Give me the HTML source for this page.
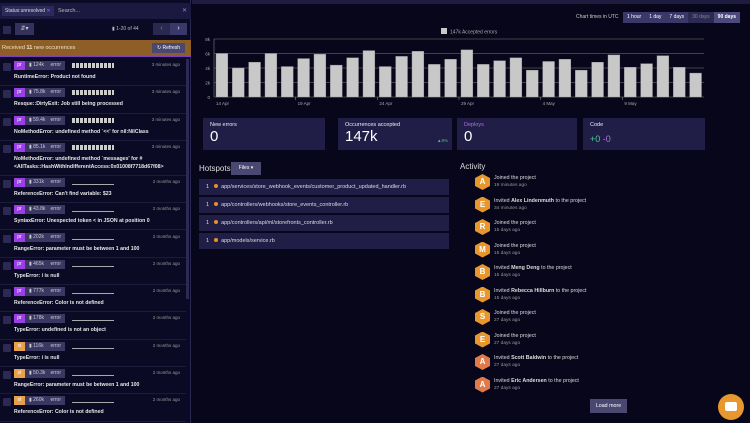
<!DOCTYPE html>
<html><head><meta charset="utf-8">
<style>
*{box-sizing:border-box;margin:0;padding:0}
body{width:750px;height:423px;overflow:hidden;background:#07061a;font-family:"Liberation Sans",sans-serif;color:#ddd;position:relative;font-size:6px}
.abs{position:absolute}
#side{left:0;top:0;width:191px;height:423px;background:#0b0a24;border-right:1px solid #2a2850}
.row{position:absolute;left:0;width:186px;border-bottom:1px solid #1d1b3c}
.cb{position:absolute;left:3px;top:4px;width:8px;height:8px;background:#2c2a52;border-radius:1px}
.badge{position:absolute;left:14px;top:2px;height:9px;display:flex;font-size:5px;line-height:9px}
.badge .e{width:11px;text-align:center;color:#fff}
.badge .r{background:#3a3762;padding:0 4px;width:40px;display:flex;justify-content:space-between;color:#ccc}
.spark{position:absolute;left:72px;top:5px;width:42px;height:4px;border-bottom:1px solid #aaa}
.spark.b{border-bottom:none;top:4px;height:5px;background:repeating-linear-gradient(90deg,#ccc 0 3px,transparent 3px 4px)}
.ago{position:absolute;right:6px;top:3px;font-size:4.5px;color:#999}
.tt{position:absolute;left:14px;top:14px;font-size:5.2px;color:#e6e6e6;line-height:8px;font-weight:bold}
.card{position:absolute;top:118px;height:32px;background:#201e46;padding:4px 7px}
.card .l{font-size:5.5px;color:#eee}
.card .v{font-size:15px;color:#fff;line-height:15px;margin-top:1px}
.hs{position:absolute;left:199px;width:250px;height:16px;background:#201e46;font-size:5.5px;line-height:16px;padding-left:7px;color:#ddd}
.hs i{display:inline-block;width:4px;height:4px;border-radius:50%;background:#e8902a;margin:0 3px 0 5px}
.act{position:absolute;left:475px;height:18px}
.hex{position:absolute;left:0;top:0;width:15px;height:16px;clip-path:polygon(50% 0,100% 25%,100% 75%,50% 100%,0 75%,0 25%);background:#e8962e;color:#fff;font-size:8px;font-weight:bold;text-align:center;line-height:16px}
.act .a1{position:absolute;left:19px;top:1px;font-size:5.3px;white-space:nowrap;color:#ddd}
.act .a2{position:absolute;left:19px;top:9px;font-size:4.8px;color:#999;white-space:nowrap}
</style></head><body>
<div id="side" class="abs">
  <div class="abs" style="left:0;top:3px;width:191px;height:16px;background:#1b1940">
    <div class="abs" style="left:2px;top:3px;height:10px;background:#2c2a58;padding:0 3px;font-size:5px;line-height:10px;color:#ddd">Status:unresolved <span style="color:#b060ff">✕</span></div>
    <div class="abs" style="left:58px;top:3px;font-size:5.5px;line-height:10px;color:#bbb">Search...</div>
    <div class="abs" style="left:182px;top:3px;font-size:6px;line-height:10px;color:#a070ff">✕</div>
  </div>
  <div class="abs" style="left:3px;top:26px;width:8px;height:8px;background:#2c2a52"></div>
  <div class="abs" style="left:15px;top:23px;width:19px;height:12px;background:#34325c;font-size:6px;color:#ccc;text-align:center;line-height:12px">⇵▾</div>
  <div class="abs" style="left:112px;top:26px;font-size:5px;color:#bbb">▮ 1-20 of 44</div>
  <div class="abs" style="left:153px;top:23px;width:17px;height:12px;background:#2a2850;color:#888;font-size:7px;text-align:center;line-height:12px">‹</div>
  <div class="abs" style="left:170px;top:23px;width:17px;height:12px;background:#3a3868;color:#fff;font-size:7px;text-align:center;line-height:12px">›</div>
  <div class="abs" style="left:0;top:40px;width:191px;height:17px;background:#8d5f26;border-bottom:1px solid #7a40c0">
    <div class="abs" style="left:2px;top:5px;font-size:5.5px;color:#f0e0c8">Received <b>11</b> new occurrences</div>
    <div class="abs" style="left:152px;top:3px;width:33px;height:10px;background:#4a4870;font-size:5px;line-height:10px;text-align:center;color:#fff">↻ Refresh</div>
  </div>
  <div id="rows"></div>
  <div class="abs" style="left:186px;top:59px;width:3px;height:240px;background:#2c2a52"></div>
</div>

<div class="abs" style="left:192px;top:0;width:558px;height:4px;background:#1d1b40"></div>
<div class="abs" style="left:576px;top:14px;font-size:5px;color:#ccc">Chart times in UTC</div>
<div class="abs" style="left:623px;top:12px;height:11px;display:flex;font-size:5px;line-height:11px;background:#3a3868">
  <div style="padding:0 4px;color:#fff">1 hour</div>
  <div style="padding:0 4px;color:#fff">1 day</div>
  <div style="padding:0 4px;color:#fff">7 days</div>
  <div style="padding:0 4px;color:#888;background:#2c2a52">30 days</div>
  <div style="padding:0 4px;color:#fff;background:#4c4a7a;font-weight:bold">90 days</div>
</div>
<svg class="abs" id="chart" style="left:192px;top:25px" width="520" height="85"></svg>

<div class="card" style="left:203px;width:122px"><div class="l">New errors</div><div class="v">0</div></div>
<div class="card" style="left:338px;width:114px"><div class="l">Occurrences accepted</div><div class="v">147k</div><div class="abs" style="right:4px;top:20px;font-size:4.5px;color:#3fc08a">▲8%</div></div>
<div class="card" style="left:457px;width:120px"><div class="l" style="color:#b070e0">Deploys</div><div class="v">0</div></div>
<div class="card" style="left:583px;width:122px"><div class="l">Code</div><div class="v" style="font-size:9px;margin-top:4px"><span style="color:#4bc9a0">+0</span> <span style="color:#b070e0">-0</span></div></div>

<div class="abs" style="left:199px;top:164px;font-size:8px;color:#ddd">Hotspots</div>
<div class="abs" style="left:231px;top:162px;width:30px;height:13px;background:#4a4870;font-size:5px;line-height:13px;text-align:center;color:#fff">Files ▾</div>
<div class="hs" style="top:179px">1<i></i>app/services/store_webhook_events/customer_product_updated_handler.rb</div>
<div class="hs" style="top:197px">1<i></i>app/controllers/webhooks/store_events_controller.rb</div>
<div class="hs" style="top:215px">1<i></i>app/controllers/api/ml/storefronts_controller.rb</div>
<div class="hs" style="top:233px">1<i></i>app/models/service.rb</div>

<div class="abs" style="left:460px;top:162px;font-size:8px;color:#ddd">Activity</div>
<div id="acts"></div>
<div class="abs" style="left:590px;top:399px;width:37px;height:14px;background:#4a4870;font-size:5.3px;line-height:14px;text-align:center;color:#fff">Load more</div>
<div class="abs" style="left:718px;top:394px;width:26px;height:26px;border-radius:50%;background:#e8962e"><div class="abs" style="left:7px;top:8px;width:12px;height:9px;background:#fff;border-radius:2px"></div></div>

<script>
const rowsData=[
["pr","124k","3 minutes ago","RuntimeError: Product not found"],
["pr","75.8k","3 minutes ago","Resque::DirtyExit: Job still being processed"],
["pr","59.4k","3 minutes ago","NoMethodError: undefined method `<<' for nil:NilClass"],
["pr","85.1k","3 minutes ago","NoMethodError: undefined method `messages' for #<br>&lt;AllTasks::HashWithIndifferentAccess:0x01008f7718d67f08&gt;"],
["pr","331k","2 months ago","ReferenceError: Can't find variable: $23"],
["pr","43.8k","2 months ago","SyntaxError: Unexpected token &lt; in JSON at position 0"],
["pr","202k","2 months ago","RangeError: parameter must be between 1 and 100"],
["pr","465k","2 months ago","TypeError: i is null"],
["pr","777k","2 months ago","ReferenceError: Color is not defined"],
["pr","178k","2 months ago","TypeError: undefined is not an object"],
["st","116k","2 months ago","TypeError: i is null"],
["st","50.3k","2 months ago","RangeError: parameter must be between 1 and 100"],
["st","260k","2 months ago","ReferenceError: Color is not defined"]];
let y=59;const R=document.getElementById('rows');
rowsData.forEach((d,i)=>{const h=i==3?35:27.3;const r=document.createElement('div');r.className='row';r.style.top=y+'px';r.style.height=h+'px';


r.innerHTML=`<div class="cb"></div><div class="badge"><div class="e" style="background:${d[0]=='pr'?'#9a3ee8':'#e8a04a'}">${d[0]}</div><div class="r"><span>▮ ${d[1]}</span><span>error</span></div></div><div class="spark${i<4?' b':''}"></div><div class="ago">${d[2]}</div><div class="tt">${d[3]}</div>`;
R.appendChild(r);y+=h;});
const acts=[["A","Joined the project","19 minutes ago"],["E","Invited <b>Alex Lindenmuth</b> to the project","34 minutes ago"],["R","Joined the project","15 days ago"],["M","Joined the project","15 days ago"],["B","Invited <b>Meng Deng</b> to the project","15 days ago"],["B","Invited <b>Rebecca Hillburn</b> to the project","15 days ago"],["S","Joined the project","27 days ago"],["E","Joined the project","27 days ago"],["A","Invited <b>Scott Baldwin</b> to the project","27 days ago"],["A","Invited <b>Eric Andersen</b> to the project","27 days ago"]];
const A=document.getElementById('acts');
acts.forEach((a,i)=>{const d=document.createElement('div');d.className='act';d.style.top=(174+i*22.5)+'px';


d.innerHTML=`<div class="hex" style="background:${i>=8?'#e07a4a':'#e8962e'}">${a[0]}</div><div class="a1">${a[1]}</div><div class="a2">${a[2]}</div>`;A.appendChild(d);});
</script>
<script>
const values=[6.0,4.0,4.8,6.0,4.2,5.3,5.9,4.4,5.4,6.4,4.2,5.6,6.3,4.5,5.2,6.5,4.5,5.0,5.4,3.7,4.9,5.2,3.7,4.8,5.8,4.1,4.6,5.7,4.1,3.3];
const yTicks=[0,2,4,6,8];
const yTickLabels=["0","2k","4k","6k","8k"];
const xLabels=["14 Apr","19 Apr","24 Apr","29 Apr","4 May","9 May"];
const xLabelIdx=[0,5,10,15,20,25];
const svg=document.getElementById('chart');const NS='http://www.w3.org/2000/svg';
const x0=22,x1=512,yTop=14,yBot=72,step=(x1-x0)/values.length;
const yS=v=>yBot-(v/8)*(yBot-yTop);const xS=i=>x0+i*step;
function el(t,at,txt){const e=document.createElementNS(NS,t);for(const k in at)e.setAttribute(k,at[k]);if(txt!==undefined)e.textContent=txt;svg.appendChild(e);return e;}
let g=el('rect',{x:249,y:3,width:6,height:6,fill:'#c8c8c8'});


g=el('text',{x:258,y:8.5,'font-size':5,fill:'#aaa'},'147k Accepted errors');


yTicks.forEach((t,i)=>{const l=el('line',{x1:x0,x2:x1,y1:yS(t),y2:yS(t),stroke:'#555','stroke-width':0.8});


const tx=el('text',{x:x0-4,y:yS(t)+2,'font-size':4.5,fill:'#aaa','text-anchor':'end'},yTickLabels[i]);

});
el('line',{x1:x0,x2:x0,y1:yTop,y2:yBot,stroke:'#666','stroke-width':0.8});
values.forEach((v,i)=>{const b=el('rect',{x:xS(i)+2,y:yS(v),width:step-4.5,height:yBot-yS(v),fill:'#c8c8c8',stroke:'#999','stroke-width':0.4});

});
xLabels.forEach((l,k)=>{const xx=xS(xLabelIdx[k]);if(k>0)el('line',{x1:xx,x2:xx,y1:yBot,y2:yBot+3,stroke:'#888','stroke-width':0.6});
const t=el('text',{x:xx+2,y:yBot+8,'font-size':4.5,fill:'#aaa'},l);

});
</script>
</body></html>
